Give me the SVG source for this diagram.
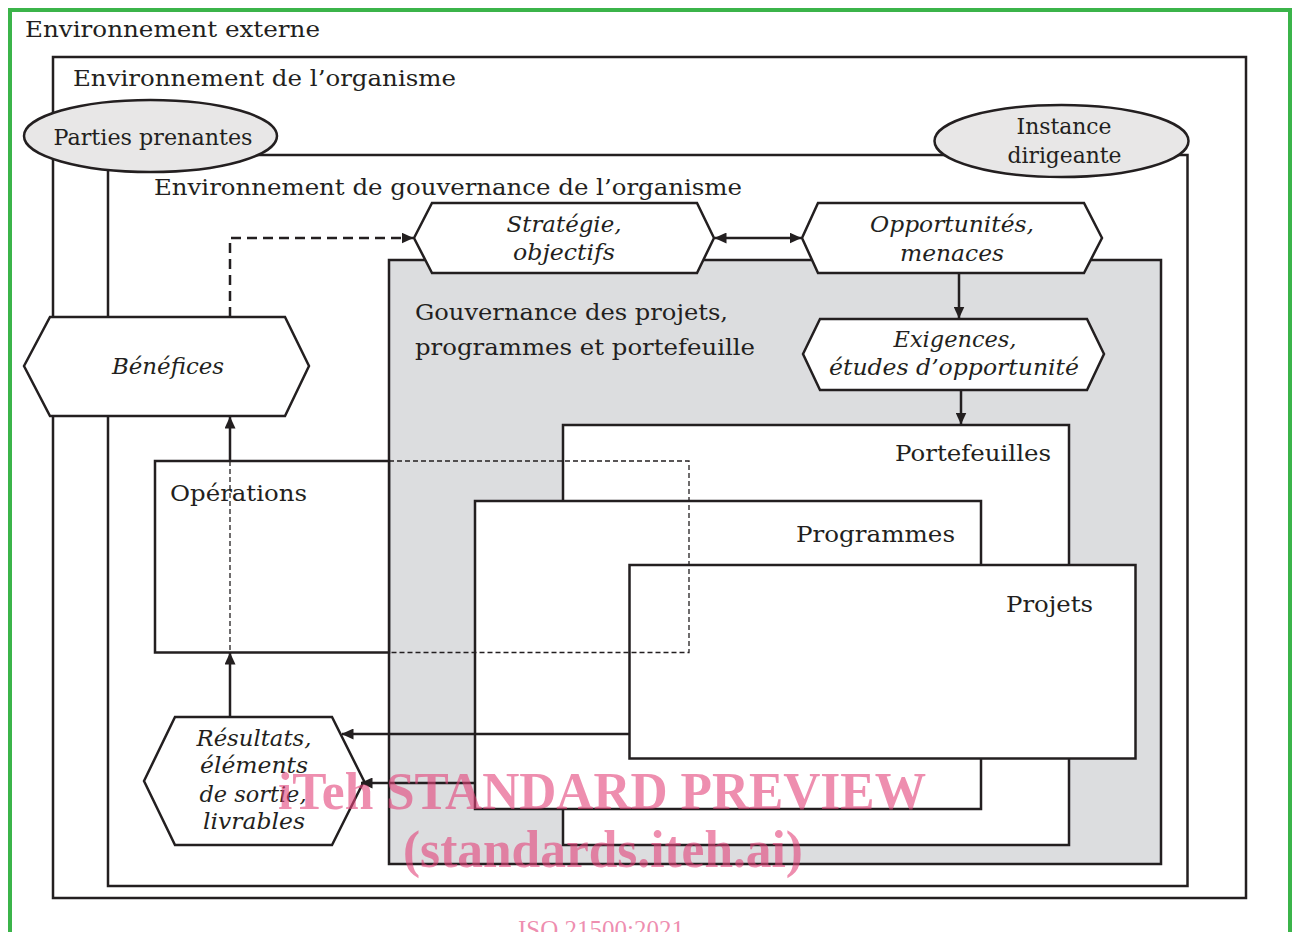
<svg xmlns="http://www.w3.org/2000/svg" width="1296" height="932" viewBox="0 0 1296 932">
  <defs>
    <style>
      .box { fill: #ffffff; stroke: #231f20; stroke-width: 2.5; }
      .frame { fill: none; stroke: #231f20; stroke-width: 2.5; }
      .grey { fill: #dcdddf; stroke: #231f20; stroke-width: 2.5; }
      .oval { fill: #e8e7e7; stroke: #231f20; stroke-width: 2.5; }
      .thin-dash { fill: none; stroke: #231f20; stroke-width: 1.3; stroke-dasharray: 5 3; }
      .link { fill: none; stroke: #231f20; stroke-width: 2.5; }
      .link-dash { fill: none; stroke: #231f20; stroke-width: 2.5; stroke-dasharray: 10 6; }
      .t { font-family: "DejaVu Serif", "Liberation Serif", serif; font-size: 23px; fill: #231f20; }
      .i { font-style: italic; }
      .mid { text-anchor: middle; }
      .wm { font-family: "Liberation Serif", "Times New Roman", serif; font-weight: bold; font-size: 52px; fill: #e3427a; fill-opacity: 0.6; }
      .wm-small { font-family: "Liberation Serif", "Times New Roman", serif; font-size: 25px; fill: #e3427a; fill-opacity: 0.6; }
    </style>
    <marker id="arrow" viewBox="0 0 12 11" refX="11.5" refY="5.5" markerWidth="12" markerHeight="11" markerUnits="userSpaceOnUse" orient="auto-start-reverse">
      <path d="M0,0 L12,5.5 L0,11 Z" fill="#231f20"/>
    </marker>
  </defs>

  <rect x="0" y="0" width="1296" height="932" fill="#ffffff"/>

  <!-- outer frame: external environment -->
  <g id="environnement-externe">
    <rect x="10" y="10" width="1280" height="1000" fill="none" stroke="#3bb44a" stroke-width="4"/>
    <text class="t" x="25" y="37" textLength="295" lengthAdjust="spacingAndGlyphs">Environnement externe</text>
  </g>

  <g id="environnement-organisme">
    <rect class="frame" x="53" y="57" width="1193" height="841"/>
    <text class="t" x="73" y="86" textLength="383" lengthAdjust="spacingAndGlyphs">Environnement de l’organisme</text>
  </g>

  <g id="environnement-gouvernance">
    <rect class="frame" x="108" y="155" width="1079.5" height="731"/>
    <text class="t" x="154" y="195" textLength="588" lengthAdjust="spacingAndGlyphs">Environnement de gouvernance de l’organisme</text>
  </g>

  <g id="gouvernance-ppp">
    <rect class="grey" x="389" y="260" width="772" height="604"/>
    <text class="t" x="415" y="320" textLength="313" lengthAdjust="spacingAndGlyphs">Gouvernance des projets,</text>
    <text class="t" x="415" y="355" textLength="340" lengthAdjust="spacingAndGlyphs">programmes et portefeuille</text>
  </g>

  <g id="portefeuilles">
    <rect class="box" x="563" y="425" width="506" height="420"/>
    <text class="t" x="895" y="461" textLength="156" lengthAdjust="spacingAndGlyphs">Portefeuilles</text>
  </g>

  <g id="programmes">
    <rect class="box" x="475" y="501" width="506" height="308"/>
    <text class="t" x="796" y="542" textLength="159" lengthAdjust="spacingAndGlyphs">Programmes</text>
  </g>

  <g id="projets">
    <rect class="box" x="629.5" y="565" width="506" height="193.5"/>
    <text class="t" x="1006" y="612" textLength="87" lengthAdjust="spacingAndGlyphs">Projets</text>
  </g>

  <g id="operations">
    <path class="box" d="M389,461 H155 V652.5 H389 Z"/>
    <path class="thin-dash" d="M389,461 H689 V652.5 H389"/>
    <path class="thin-dash" d="M230,461 V652.5"/>
    <text class="t" x="170" y="501" textLength="137" lengthAdjust="spacingAndGlyphs">Opérations</text>
  </g>

  <g id="parties-prenantes">
    <ellipse class="oval" cx="150.5" cy="136" rx="126.5" ry="36"/>
    <text class="t mid" x="153" y="145" textLength="199" lengthAdjust="spacingAndGlyphs">Parties prenantes</text>
  </g>

  <g id="instance-dirigeante">
    <ellipse class="oval" cx="1061.5" cy="141" rx="127" ry="36"/>
    <text class="t mid" x="1064" y="134" textLength="95" lengthAdjust="spacingAndGlyphs">Instance</text>
    <text class="t mid" x="1064.5" y="163" textLength="114" lengthAdjust="spacingAndGlyphs">dirigeante</text>
  </g>

  <g id="strategie">
    <polygon class="box" points="414,238 432,203 697,203 714,238 697,273 432,273"/>
    <text class="t i mid" x="564" y="232" textLength="115" lengthAdjust="spacingAndGlyphs">Stratégie,</text>
    <text class="t i mid" x="564" y="260" textLength="102" lengthAdjust="spacingAndGlyphs">objectifs</text>
  </g>

  <g id="opportunites">
    <polygon class="box" points="802,238 818,203 1084,203 1102,238 1084,273 818,273"/>
    <text class="t i mid" x="952" y="232" textLength="164" lengthAdjust="spacingAndGlyphs">Opportunités,</text>
    <text class="t i mid" x="952" y="261" textLength="104" lengthAdjust="spacingAndGlyphs">menaces</text>
  </g>

  <g id="exigences">
    <polygon class="box" points="803,354 820,319 1087,319 1104,354 1087,390 820,390"/>
    <text class="t i mid" x="955" y="347" textLength="123" lengthAdjust="spacingAndGlyphs">Exigences,</text>
    <text class="t i mid" x="954" y="375" textLength="250" lengthAdjust="spacingAndGlyphs">études d’opportunité</text>
  </g>

  <g id="benefices">
    <polygon class="box" points="24,366 50,317 285,317 309,366 285,416 50,416"/>
    <text class="t i mid" x="168" y="374" textLength="112" lengthAdjust="spacingAndGlyphs">Bénéfices</text>
  </g>

  <g id="resultats">
    <polygon class="box" points="144,781 175,717 332,717 364,781 332,845 175,845"/>
    <text class="t i mid" x="254" y="746" textLength="115" lengthAdjust="spacingAndGlyphs">Résultats,</text>
    <text class="t i mid" x="254" y="773" textLength="108" lengthAdjust="spacingAndGlyphs">éléments</text>
    <text class="t i mid" x="253" y="802" textLength="107" lengthAdjust="spacingAndGlyphs">de sortie,</text>
    <text class="t i mid" x="254" y="829" textLength="102" lengthAdjust="spacingAndGlyphs">livrables</text>
  </g>

  <!-- connectors -->
  <g id="connectors">
    <path class="link-dash" d="M230,317 V238 H413" marker-end="url(#arrow)"/>
    <path class="link" d="M715,238 H801" marker-start="url(#arrow)" marker-end="url(#arrow)"/>
    <path class="link" d="M959,273 V318" marker-end="url(#arrow)"/>
    <path class="link" d="M961,390 V424" marker-end="url(#arrow)"/>
    <path class="link" d="M230,461 V417" marker-end="url(#arrow)"/>
    <path class="link" d="M230,717 V653" marker-end="url(#arrow)"/>
    <path class="link" d="M629,734 H342" marker-end="url(#arrow)"/>
    <path class="link" d="M475,783 H361" marker-end="url(#arrow)"/>
  </g>

  <!-- overprinted preview stamp -->
  <g id="stamp">
    <text class="wm" x="278" y="809" textLength="648" lengthAdjust="spacingAndGlyphs">iTeh STANDARD PREVIEW</text>
    <text class="wm" x="403" y="867" textLength="400" lengthAdjust="spacingAndGlyphs">(standards.iteh.ai)</text>
    <text class="wm-small" x="518" y="938" textLength="166" lengthAdjust="spacingAndGlyphs">ISO 21500:2021</text>
  </g>
</svg>
